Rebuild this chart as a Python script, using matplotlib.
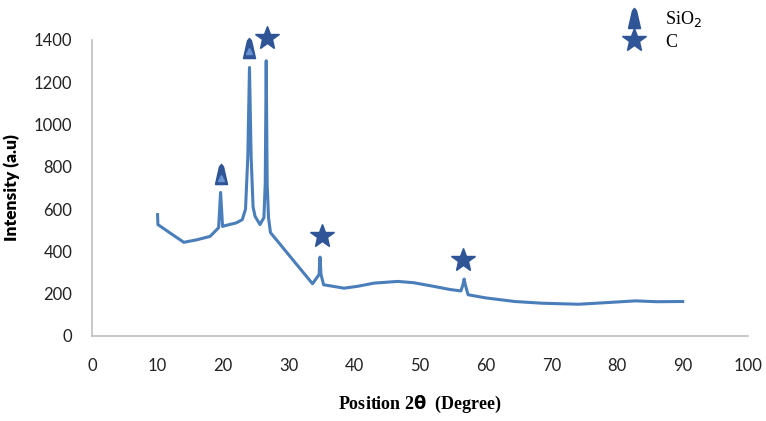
import matplotlib.pyplot as plt
from matplotlib.lines import Line2D

# XRD pattern
two_theta = [10, 10.05, 12, 14, 16, 18, 19.3, 19.6, 19.9, 20.3, 22.0, 22.9, 23.4,
             23.75, 24.0, 24.25, 24.55, 24.85, 25.6, 26.2, 26.4, 26.55, 26.7, 26.9,
             27.2, 33.6, 34.6, 34.75, 34.9, 35.3, 36.5, 38.4, 40.5, 43, 46.6, 49,
             52, 54.5, 56.2, 56.5, 56.7, 56.9, 57.3, 60, 64.4, 68.5, 74.1, 78,
             82.8, 86, 90]
intensity = [574, 527, 485, 443, 455, 471, 512, 679, 518, 522, 535, 550, 600,
             850, 1270, 850, 610, 566, 527, 560, 720, 1302, 720, 560,
             489, 247, 290, 373, 290, 242, 236, 226, 235, 250, 258, 252,
             235, 220, 213, 240, 269, 240, 195, 180, 163, 155, 150, 157,
             166, 162, 163]

sio2_x = [19.6, 24.0]
sio2_y = [764, 1363]
c_x = [26.6, 35.0, 56.6]
c_y = [1408, 471, 357]

line_color = '#4a7ebb'
mark_color = '#2f5597'
cone = [(-0.3, -0.5), (0.3, -0.5), (0.1, 0.38), (0.0, 0.5), (-0.1, 0.38), (-0.3, -0.5)]

plt.rcParams['font.family'] = ['Lato', 'DejaVu Sans']

fig = plt.figure(figsize=(7.66, 4.21), dpi=100)
ax = fig.add_axes([0.120, 0.202, 0.857, 0.703])

ax.plot(two_theta, intensity, color=line_color, lw=2.2, solid_joinstyle='round')
ax.plot(sio2_x, sio2_y, ls='none', marker=cone, ms=14.5, color=mark_color, clip_on=False)
ax.plot(sio2_x, [v - 15 for v in sio2_y], ls='none', marker='^', ms=4,
        color='#6a93d4', clip_on=False)
ax.plot(c_x, c_y, ls='none', marker='*', ms=18, color=mark_color, clip_on=False)

ax.set_xlim(0, 100)
ax.set_ylim(0, 1400)
ax.set_xticks(range(0, 101, 10))
ax.set_yticks(range(0, 1401, 200))
ax.tick_params(length=0, labelsize=12, colors='#222222')
ax.tick_params(axis='y', pad=14)
ax.tick_params(axis='x', pad=16)
for s in ['top', 'right']:
    ax.spines[s].set_visible(False)
for s in ['left', 'bottom']:
    ax.spines[s].set_color('#bfbfbf')
    ax.spines[s].set_linewidth(1.2)

ax.set_ylabel('Intensity (a.u)', fontsize=12.5, fontweight='heavy', labelpad=10)
ax.set_xlabel(r'Position 2$\mathbf{\theta}$  (Degree)', fontsize=13, fontweight='bold',
              family='Liberation Serif', labelpad=14)

handles = [Line2D([], [], ls='none', marker=cone, ms=14.5, color=mark_color),
           Line2D([], [], ls='none', marker='*', ms=18, color=mark_color)]
fig.legend(handles, ['SiO$_2$', 'C'], loc='upper left', bbox_to_anchor=(0.783, 1.017),
           frameon=False, prop={'family': 'Liberation Serif', 'size': 13},
           handletextpad=0.7, labelspacing=0.25)

fig.savefig('out.png', dpi=100)
